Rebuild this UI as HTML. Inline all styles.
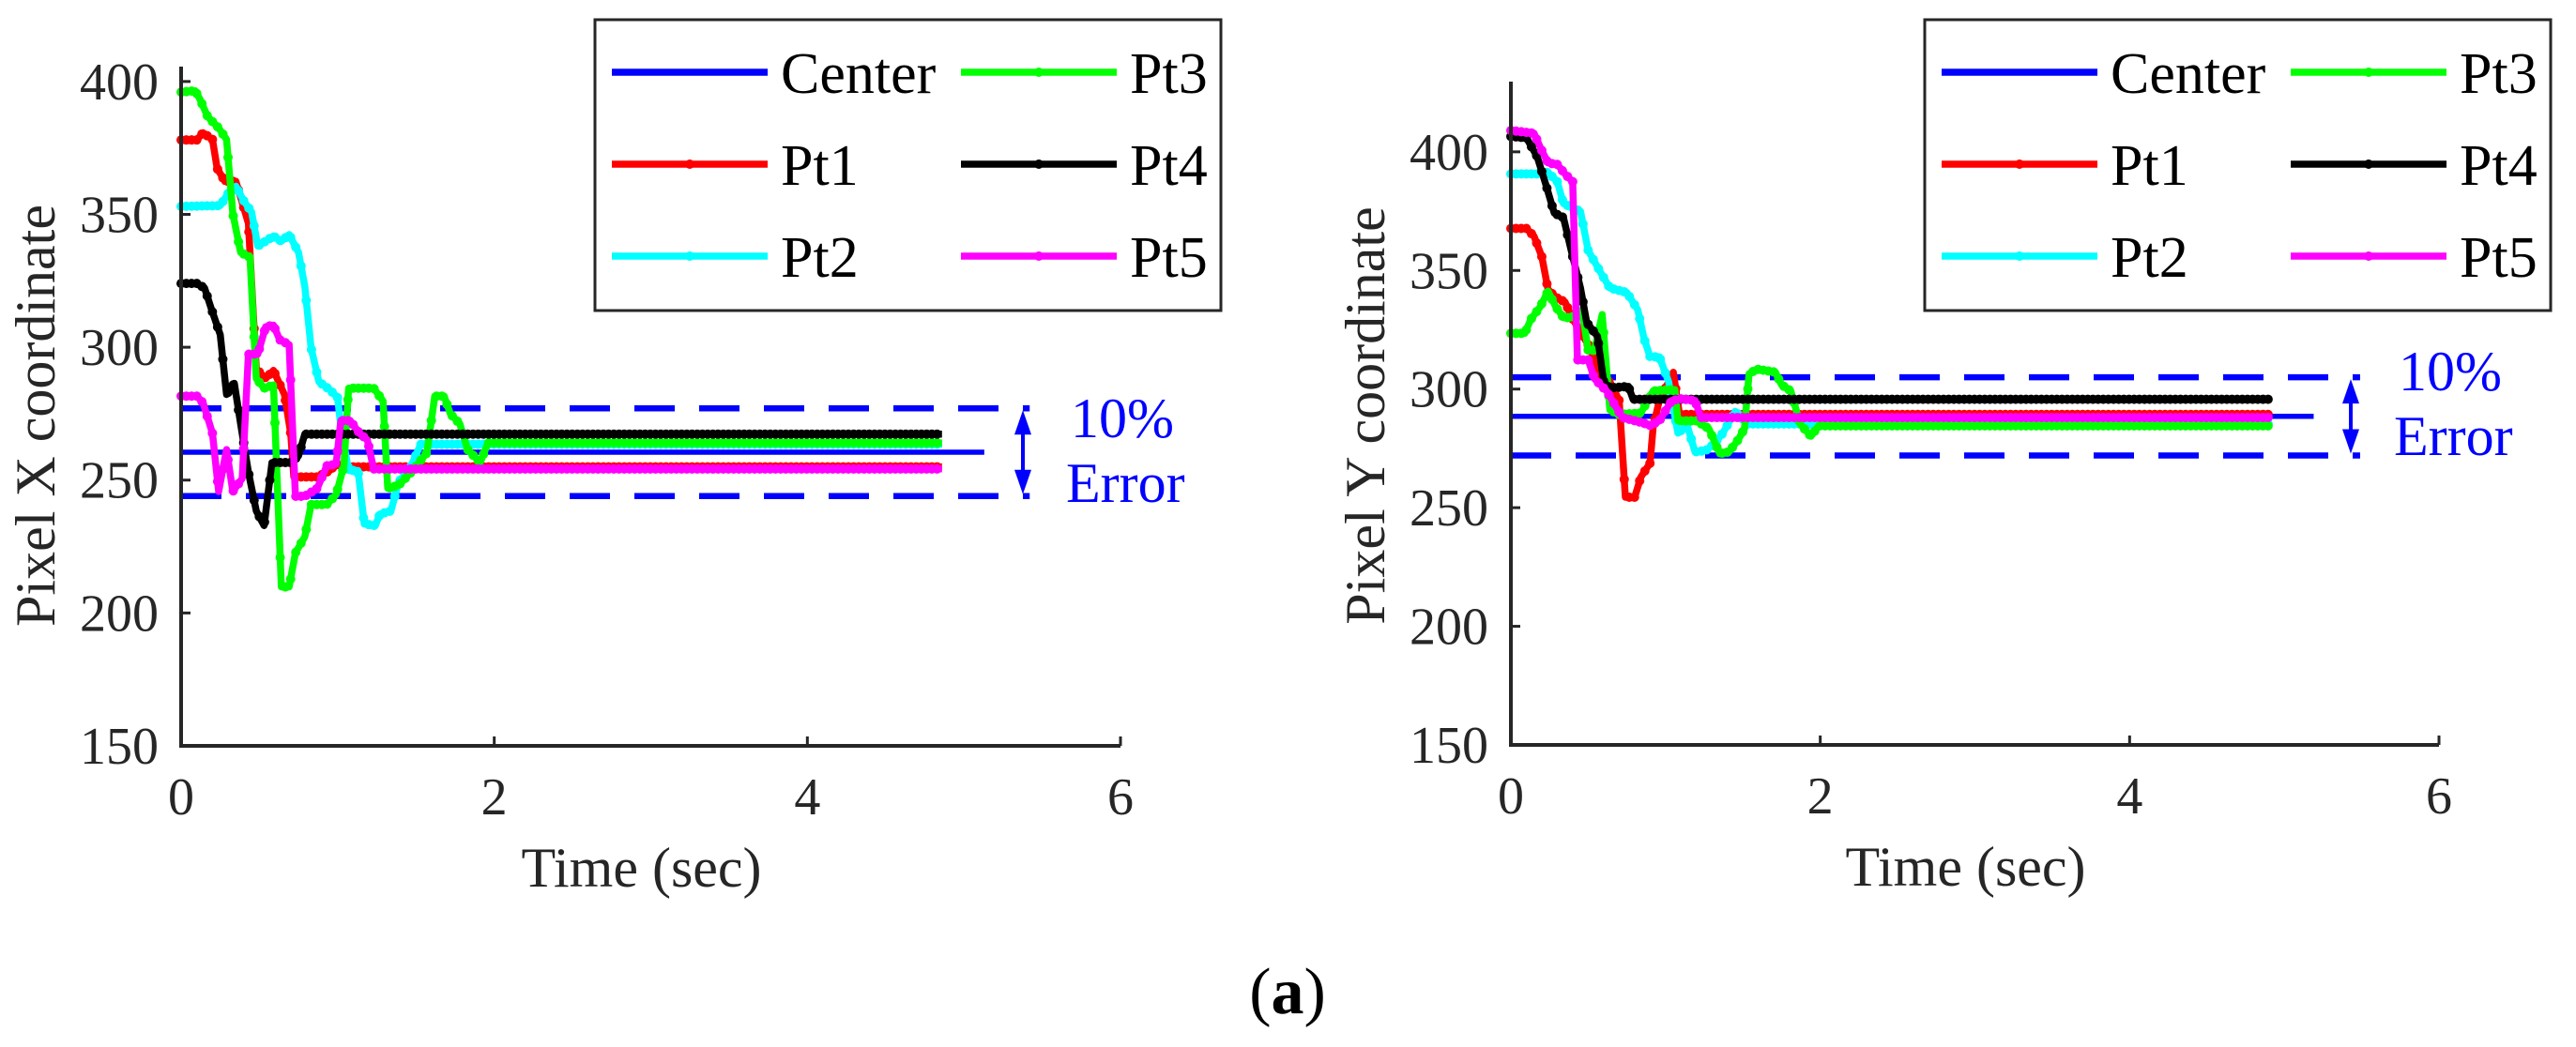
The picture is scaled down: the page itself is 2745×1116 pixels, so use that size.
<!DOCTYPE html>
<html><head><meta charset="utf-8">
<style>
html,body{margin:0;padding:0;background:#fff;}
svg{display:block;font-family:"Liberation Serif",serif;}
</style></head>
<body>
<svg id="fig" width="2745" height="1116" viewBox="0 0 2745 1116" xmlns="http://www.w3.org/2000/svg"></svg>
<script>
// ---------- Data: left panel (Pixel X) ----------
const xTicks = [0, 2, 4, 6];
const xTickLabels = ["0", "2", "4", "6"];
const yTicks = [150, 200, 250, 300, 350, 400];
const yTickLabels = ["150", "200", "250", "300", "350", "400"];
const seriesNames = ["Pt1", "Pt2", "Pt3", "Pt4", "Pt5"];

const leftCenter = 260.5;
const leftBandHi = 277;
const leftBandLo = 244;
const leftP1T = [0,0.1,0.14,0.2,0.23,0.28,0.35,0.43,0.48,0.54,0.59,0.66,0.7,0.72,0.87,0.95,0.99,1.05,4.86];
const leftP1V = [378,378,380.7,378.2,367.3,362.4,362.4,346.6,291.9,288.2,291.3,282.2,267.6,251.2,251.2,253.6,256,255,255];
const leftP2T = [0,0.25,0.31,0.35,0.4,0.45,0.49,0.59,0.64,0.69,0.75,0.79,0.83,0.88,0.95,1.0,1.02,1.07,1.13,1.17,1.24,1.27,1.34,1.39,1.47,1.53,4.86];
const leftP2V = [353,353.3,358.8,360.6,355.1,350.9,338.1,341.8,339.9,342.4,335.7,322.9,299.8,287,284,281,270,253.6,253.6,233.5,232.9,237.2,238.4,249.3,255.4,263.5,263.5];
const leftP3T = [0,0.09,0.12,0.17,0.24,0.29,0.33,0.38,0.44,0.48,0.53,0.59,0.64,0.69,0.73,0.79,0.83,0.93,0.99,1.04,1.07,1.23,1.29,1.32,1.39,1.47,1.57,1.62,1.68,1.72,1.78,1.83,1.91,1.96,4.86];
const leftP3V = [396,396.5,393.4,386.7,382.5,378.2,350.3,335.7,333.8,288.2,284.6,285.8,209.8,209.8,222.6,228.7,240.8,240.8,244.5,255.4,284.6,284.6,279.7,246.9,248.1,253,260.3,281.6,281.6,274.9,271.2,261.5,256.6,264,264];
const leftP4T = [0,0.1,0.15,0.19,0.25,0.29,0.34,0.38,0.43,0.48,0.53,0.58,0.7,0.75,0.79,4.86];
const leftP4V = [324,324,322.3,315,304.7,282.2,286.4,271.2,253,238.4,232.9,256.6,256.6,259.1,267.3,267.3];
const leftP5T = [0,0.1,0.14,0.2,0.24,0.29,0.33,0.39,0.43,0.49,0.54,0.59,0.63,0.69,0.73,0.79,0.87,0.93,0.99,1.02,1.08,1.14,1.19,1.23,4.86];
const leftP5V = [281.6,281.6,279.1,267.6,245.7,261.5,245.7,250.6,297.4,297.4,307.7,308.3,302.8,301,243.9,243.9,246.9,255.4,256,272.4,272.4,267.6,265.1,254.2,254.2];

// ---------- Data: right panel (Pixel Y) ----------
const rightCenter = 288.5;
const rightBandHi = 305;
const rightBandLo = 272;
const rightP1T = [0,0.1,0.15,0.2,0.24,0.29,0.35,0.4,0.51,0.58,0.64,0.7,0.74,0.8,0.84,0.9,0.92,0.96,1.05,1.09,4.91];
const rightP1V = [367.7,367.7,364.4,355.8,342,338.7,336.7,329.5,317.6,304.4,303.1,295.2,254.4,254.4,262.9,268.8,284,295.2,307.1,289.3,289.3];
const rightP2T = [0,0.17,0.24,0.3,0.34,0.45,0.5,0.58,0.64,0.75,0.82,0.86,0.9,0.96,1.02,1.08,1.14,1.19,1.26,1.31,1.37,1.45,1.53,4.91];
const rightP2V = [390.7,390.7,391.4,387.4,378.2,374.9,358.4,349.2,342.6,340.7,333.4,321.5,313.6,313.6,303.1,281.4,284.7,273.5,274.1,276.7,281.4,290.6,285.3,285.3];
const rightP3T = [0,0.09,0.13,0.19,0.24,0.29,0.34,0.39,0.46,0.5,0.54,0.59,0.64,0.7,0.84,0.92,1.06,1.08,1.2,1.28,1.35,1.41,1.47,1.51,1.54,1.59,1.71,1.75,1.81,1.87,1.94,1.99,4.91];
const rightP3V = [323.5,323.5,329.5,334.7,341.3,334.7,330.1,330.1,333.4,316.3,316.3,331.4,291.2,289.3,289.9,299.2,299.8,286.6,286.6,283.3,272.8,273.5,278.7,283.3,306.4,308.4,307.1,301.8,299.2,285.3,280.1,284.5,284.5];
const rightP4T = [0,0.1,0.17,0.23,0.28,0.34,0.39,0.45,0.49,0.56,0.6,0.64,0.76,0.79,4.91];
const rightP4V = [406.5,405.9,398,385.4,374.2,372.3,358.4,342.6,328.1,322.2,303.1,300.5,301.1,295.7,295.7];
const rightP5T = [0,0.15,0.19,0.24,0.3,0.35,0.4,0.43,0.5,0.54,0.62,0.72,0.84,0.9,0.96,1.04,1.1,1.19,1.23,4.91];
const rightP5V = [409,407.8,401.9,395.3,394.7,390.7,387.4,312.3,312.3,304.4,299.1,288,286,284.7,286.6,295.2,295.9,295.2,288,288];

const colors = {Center:"#0000ff",Pt1:"#ff0000",Pt2:"#00ffff",Pt3:"#00ff00",Pt4:"#000000",Pt5:"#ff00ff"};
const NS = "http://www.w3.org/2000/svg";
const svg = document.getElementById("fig");
function mk(tag, attrs, parent){
  const e = document.createElementNS(NS, tag);
  for (const k in attrs) e.setAttribute(k, attrs[k]);
  (parent||svg).appendChild(e);
  return e;
}

function panel(cfg){
  const g = mk("g", {});
  
  
  const sx = t => cfg.x0 + (t - 0) / 6 * (cfg.x1 - cfg.x0);
  const sy = v => cfg.yb - (v - 150) / (cfg.ymax - 150) * (cfg.yb - cfg.yt);

  const dashEnd = sx(cfg.dashEndT);
  for (const [val, nm] of [[cfg.hi,'band-upper-line'],[cfg.lo,'band-lower-line']]) {
    const l = mk("line", {x1:sx(0), x2:dashEnd, y1:sy(val), y2:sy(val), stroke:"#0000ff", "stroke-width":6.5, "stroke-dasharray":"43 26"}, g);
    
    
  }
  const cl = mk("line", {x1:sx(0), x2:sx(cfg.centerEndT), y1:sy(cfg.center), y2:sy(cfg.center), stroke:"#0000ff", "stroke-width":5.5}, g);
  
  

  cfg.series.forEach((s, i) => {
    const sg = mk("g", {}, g);
    
    
    const col = colors[seriesNames[i]];
    const pts = s.t.map((t, j) => sx(t).toFixed(1) + "," + sy(s.v[j]).toFixed(1)).join(" ");
    const pl = mk("polyline", {points:pts, fill:"none", stroke:col, "stroke-width":7.5, "stroke-linejoin":"round"}, sg);
    
    
    const tEnd = s.t[s.t.length - 1];
    let k = 0;
    for (let t = 0; t <= tEnd + 1e-9; t += 0.0333) {
      while (k < s.t.length - 2 && s.t[k + 1] < t) k++;
      const f = (t - s.t[k]) / (s.t[k + 1] - s.t[k]);
      const v = s.v[k] + Math.max(0, Math.min(1, f)) * (s.v[k + 1] - s.v[k]);
      const c = mk("circle", {cx:sx(t), cy:sy(v), r:5, fill:col}, sg);
      
      
    }
  });

  const ax = mk("path", {d:`M${cfg.x0},${cfg.yt} L${cfg.x0},${cfg.yb} L${cfg.x1},${cfg.yb}`, fill:"none", stroke:"#262626", "stroke-width":4}, g);
  
  
  xTicks.forEach((t, i) => {
    if (i > 0) mk("line", {x1:sx(t), x2:sx(t), y1:cfg.yb, y2:cfg.yb - 10, stroke:"#262626", "stroke-width":3}, g);
    const tx = mk("text", {x:sx(t), y:cfg.yb + 73, "font-size":56, fill:"#262626", "text-anchor":"middle"}, g);
    tx.textContent = xTickLabels[i];
    
    
  });
  yTicks.forEach((v, i) => {
    mk("line", {x1:cfg.x0, x2:cfg.x0 + 10, y1:sy(v), y2:sy(v), stroke:"#262626", "stroke-width":3}, g);
    const ty = mk("text", {x:cfg.x0 - 24, y:sy(v) + 19, "font-size":56, fill:"#262626", "text-anchor":"end"}, g);
    ty.textContent = yTickLabels[i];
    
    
  });
  const xt = mk("text", {x:(cfg.x0 + cfg.x1) / 2 - 10, y:cfg.yb + 150, "font-size":60, fill:"#262626", "text-anchor":"middle"}, g);
  xt.textContent = "Time (sec)";
  
  
  const yt = mk("text", {x:0, y:0, "font-size":60, fill:"#262626", "text-anchor":"middle", transform:`translate(${cfg.yTitleX},443) rotate(-90)`}, g);
  yt.textContent = cfg.yTitle;
  
  

  const axx = cfg.arrowX, yH = sy(cfg.hi), yL = sy(cfg.lo);
  const ar = mk("g", {}, g);
  
  
  mk("line", {x1:axx, x2:axx, y1:yH + 18, y2:yL - 18, stroke:"#0000ff", "stroke-width":4}, ar);
  mk("polygon", {points:`${axx},${yH+2} ${axx-9},${yH+28} ${axx+9},${yH+28}`, fill:"#0000ff"}, ar);
  mk("polygon", {points:`${axx},${yL-2} ${axx-9},${yL-28} ${axx+9},${yL-28}`, fill:"#0000ff"}, ar);
  const t1 = mk("text", {x:cfg.arrowX + 51, y:cfg.pctY, "font-size":60, fill:"#0000ff"}, g);
  t1.textContent = "10%";
  
  
  const t2 = mk("text", {x:cfg.arrowX + 46, y:cfg.pctY + 69, "font-size":60, fill:"#0000ff"}, g);
  t2.textContent = "Error";
  
  

  const lg = mk("g", {}, g);
  
  
  mk("rect", {x:cfg.legX, y:21, width:667, height:310, fill:"#fff", stroke:"#262626", "stroke-width":3}, lg);
  const entries = ["Center","Pt1","Pt2","Pt3","Pt4","Pt5"];
  entries.forEach((nm, i) => {
    const col = i < 3 ? 0 : 1, row = i % 3;
    const lx = cfg.legX + 18 + col * 372, ly = 77 + row * 98;
    const eg = mk("g", {}, lg);
    
    
    mk("line", {x1:lx, x2:lx + 166, y1:ly, y2:ly, stroke:colors[nm], "stroke-width":7.5}, eg);
    if (nm !== "Center") mk("circle", {cx:lx + 83, cy:ly, r:5, fill:colors[nm]}, eg);
    const tt = mk("text", {x:lx + 180, y:ly + 22, "font-size":62, fill:"#000"}, eg);
    tt.textContent = nm;
  });
}

panel({name:"pixel-x-chart", x0:193, x1:1194, yt:71, yb:795, ymax:405.6, yTitle:"Pixel X coordinate", yTitleX:58,
  center:leftCenter, hi:leftBandHi, lo:leftBandLo, dashEndT:5.42, centerEndT:5.13, arrowX:1090, pctY:466, legX:634,
  series:[{t:leftP1T,v:leftP1V},{t:leftP2T,v:leftP2V},{t:leftP3T,v:leftP3V},{t:leftP4T,v:leftP4V},{t:leftP5T,v:leftP5V}]});
panel({name:"pixel-y-chart", x0:1610, x1:2599, yt:87, yb:794, ymax:429.6, yTitle:"Pixel Y coordinate", yTitleX:1475,
  center:rightCenter, hi:rightBandHi, lo:rightBandLo, dashEndT:5.49, centerEndT:5.19, arrowX:2505, pctY:416, legX:2051,
  series:[{t:rightP1T,v:rightP1V},{t:rightP2T,v:rightP2V},{t:rightP3T,v:rightP3V},{t:rightP4T,v:rightP4V},{t:rightP5T,v:rightP5V}]});

const cap = mk("text", {x:1372, y:1080, "font-size":70, fill:"#000", "text-anchor":"middle"});


cap.innerHTML = '(<tspan font-weight="bold">a</tspan>)';
</script>
</body></html>
